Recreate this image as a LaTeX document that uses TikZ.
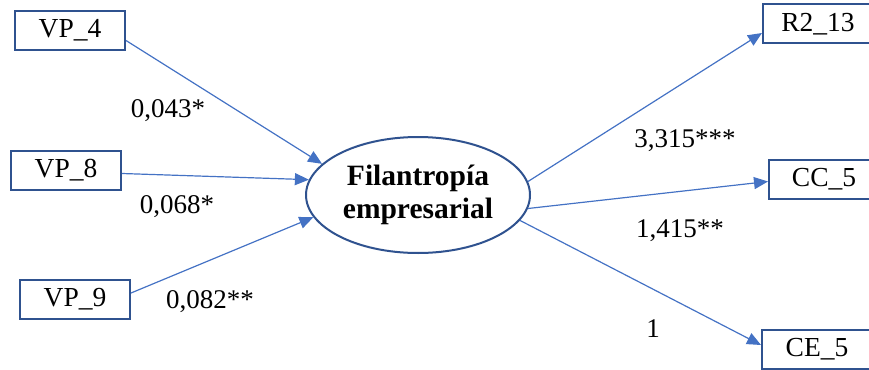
\documentclass[tikz,border=0pt]{standalone}
\usepackage{fontspec}
\setmainfont{Liberation Serif}
\usetikzlibrary{arrows.meta,shapes.geometric}
\definecolor{linkblue}{HTML}{4472C4}
\definecolor{frameblue}{HTML}{2F528F}
\begin{document}
\begin{tikzpicture}[x=1pt,y=-1pt,
  varbox/.style={draw=frameblue, line width=2pt, minimum width=110pt,
    minimum height=39pt, inner sep=0pt, font=\fontsize{27.5}{30}\selectfont},
  construct/.style={ellipse, draw=frameblue, line width=2pt,
    minimum width=224pt, minimum height=116pt, inner sep=0pt, align=center,
    font=\fontsize{29.5}{33}\selectfont\bfseries},
  link/.style={draw=linkblue, line width=1.2pt,
    -{Triangle[length=14pt,width=12pt]}},
  coef/.style={font=\fontsize{27}{29}\selectfont, inner sep=0pt}]
\useasboundingbox (0,0) rectangle (869,369);
\clip (0,0) rectangle (869,369);

% indicator boxes and the latent construct
\node[varbox] (vp4) at (70,30.5) {VP\_4};
\node[varbox] (vp8) at (66,170.5) {VP\_8};
\node[varbox] (vp9) at (75,299) {VP\_9};
\node[construct] (fe) at (418,195) {Filantropía\\empresarial};
\node[varbox] (r2) at (818,24) {R2\_13};
\node[varbox] (cc) at (824,179.5) {CC\_5};
\node[varbox] (ce) at (817,349.5) {CE\_5};

% paths
\draw[link] ([yshift=-10pt]vp4.east) -- (fe.162.7);
\draw[link] ([yshift=-3pt]vp8.east) -- (fe.172.2);
\draw[link] ([yshift=6pt]vp9.east) -- (fe.192.4);
\draw[link] (fe.7.9) -- ([yshift=-9pt]r2.west);
\draw[link] (fe.353.3) -- ([yshift=-2pt]cc.west);
\draw[link] (fe.346.8) -- ([yshift=4.5pt]ce.west);

% coefficients
\node[coef] (c1) at (168,111) {0,043*};
\node[coef] (c2) at (177,207) {0,068*};
\node[coef] (c3) at (210,302) {0,082**};
\node[coef] (c4) at (685,141) {3,315***};
\node[coef] (c5) at (680,231) {1,415**};
\node[coef] (c6) at (653,329) {1};
\end{tikzpicture}
\end{document}
